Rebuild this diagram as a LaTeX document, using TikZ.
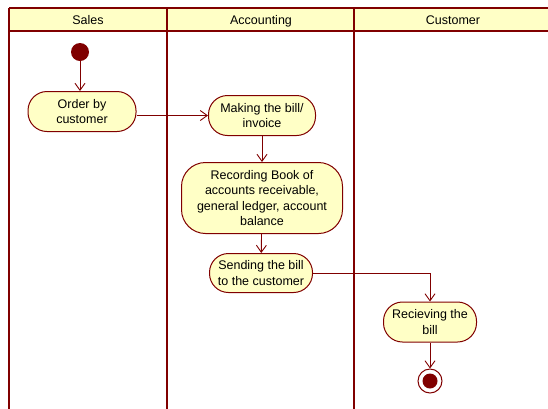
\documentclass[tikz,border=0pt]{standalone}
\usepackage{fontspec}
\setmainfont{Liberation Sans}
\usetikzlibrary{arrows.meta}
\definecolor{lanered}{HTML}{800000}
\definecolor{boxfill}{HTML}{FFFFC6}
\begin{document}
\begin{tikzpicture}[x=1pt,y=-1pt,
  activity/.style={draw=lanered, fill=boxfill, line width=1pt, rounded corners=19pt,
    align=center, font=\fontsize{12.5}{15.5}\selectfont, inner sep=0pt},
  flow/.style={draw=lanered, line width=0.9pt, -{Straight Barb[length=7pt,width=10pt,line width=0.9pt]}},
  lane/.style={draw=lanered, line width=2.5pt},
  header/.style={font=\fontsize{12.5}{15}\selectfont, anchor=base, inner sep=0pt}]
\useasboundingbox (0,0) rectangle (548,408);
% swimlane headers and borders
\fill[boxfill] (9,8) rectangle (550,31);
\draw[lanered, line width=2pt] (9,8) -- (550,8);
\draw[lanered, line width=2pt] (9,31) -- (550,31);
\draw[lanered, line width=1.5pt] (9,8) -- (9,410);
\draw[lane] (167,8) -- (167,410);
\draw[lane] (354,8) -- (354,410);
\node[header] (hsales) at (88,24.5) {Sales};
\node[header] (hacc) at (261,24.5) {Accounting};
\node[header] (hcust) at (453,24.5) {Customer};
% initial node
\node[circle, fill=lanered, minimum size=18pt, inner sep=0pt] (start) at (80,52) {};
% activities
\node[activity, minimum width=108pt, minimum height=40pt] (order) at (82,111.5) {Order by\\customer};
\node[activity, minimum width=107pt, minimum height=40pt] (making) at (262,115.5) {Making the bill/\\invoice};
\node[activity, minimum width=161pt, minimum height=71pt, rounded corners=24pt] (record) at (262,198) {Recording Book of\\accounts receivable,\\general ledger, account\\balance};
\node[activity, minimum width=103pt, minimum height=39pt] (send) at (261,273) {Sending the bill\\to the customer};
\node[activity, minimum width=93pt, minimum height=40pt] (recv) at (430,322) {Recieving the\\bill};
% final node
\node[circle, draw=lanered, fill=white, line width=1pt, minimum size=24pt, inner sep=0pt] (final) at (430,381) {};
\node[circle, fill=lanered, minimum size=15pt, inner sep=0pt] (finaldot) at (final.center) {};
% control flows
\draw[flow] (start) -- (order.north -| start);
\draw[flow] (making.west -| order.east) -- (making.west);
\draw[flow] (making) -- (record);
\draw[flow] (record) -- (send);
\coordinate (turn) at (send.east -| recv.north);
\draw[flow] (send.east) -- (turn) -- (recv.north);
\draw[flow] (recv) -- (final);
\end{tikzpicture}
\end{document}
